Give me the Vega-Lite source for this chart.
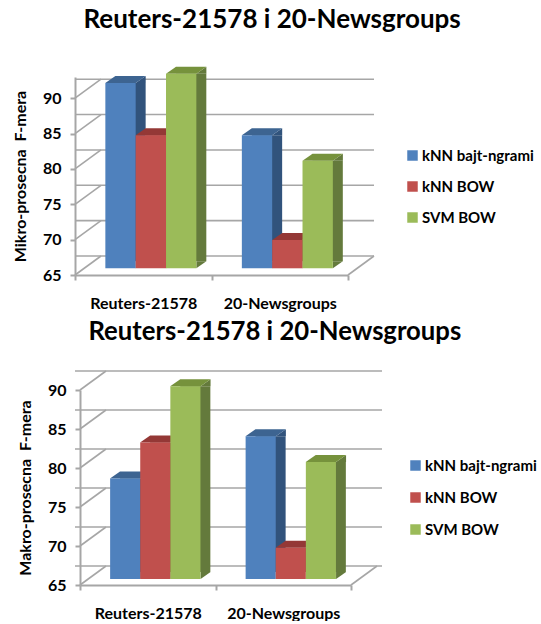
{
"$schema":"https://vega.github.io/schema/vega-lite/v6.json",
"background":"white",
"padding":{"left":12,"top":6,"right":0,"bottom":0},
"bounds":"flush",
"spacing":115,
"datasets":{
"micro":[
{"group":"Reuters-21578","series":"kNN bajt-ngrami","value":91.2},
{"group":"Reuters-21578","series":"kNN BOW","value":83.8},
{"group":"Reuters-21578","series":"SVM BOW","value":92.5},
{"group":"20-Newsgroups","series":"kNN bajt-ngrami","value":83.8},
{"group":"20-Newsgroups","series":"kNN BOW","value":69},
{"group":"20-Newsgroups","series":"SVM BOW","value":80.2}],
"macro":[
{"group":"Reuters-21578","series":"kNN bajt-ngrami","value":77.9},
{"group":"Reuters-21578","series":"kNN BOW","value":82.5},
{"group":"Reuters-21578","series":"SVM BOW","value":89.7},
{"group":"20-Newsgroups","series":"kNN bajt-ngrami","value":83.3},
{"group":"20-Newsgroups","series":"kNN BOW","value":69},
{"group":"20-Newsgroups","series":"SVM BOW","value":80}],
"ticks":[{"tick":65},{"tick":70},{"tick":75},{"tick":80},{"tick":85},{"tick":90}]
},
"config":{"view":{"stroke":null},"font":"Lato"},
"vconcat":[
{"width":273,"height":198,
"title":{"text":"Reuters-21578 i 20-Newsgroups","font":"Lato","fontSize":26,"fontWeight":"bold","color":"#000000","anchor":"start","dx":71,"offset":34},
"resolve":{"scale":{"color":"independent","xOffset":"independent"}},
"encoding":{
"y":{"type":"quantitative","scale":{"domain":[65,93],"nice":false,"zero":false},"axis":{"title":"Mikro-prosecna \u00a0F-mera","titleFont":"Lato","titleFontSize":16,"titleFontWeight":"bold","titleColor":"#000000","titlePadding":14,"labelFont":"Lato","labelFontSize":16,"labelFontWeight":"bold","labelColor":"#000000","labelPadding":9,"values":[65,70,75,80,85,90],"grid":false,"domainColor":"#a6a6a6","domainWidth":2,"tickColor":"#a6a6a6","tickWidth":2,"tickSize":5}}
},
"layer":[
{"data":{"name":"ticks"},"mark":{"type":"rule","color":"#a6a6a6","strokeWidth":1.6,"xOffset":26,"x2Offset":26,"yOffset":-19},"encoding":{"y":{"field":"tick"}}},
{"data":{"name":"ticks"},"mark":{"type":"rule","color":"#a6a6a6","strokeWidth":1.6,"y2Offset":-19},"encoding":{"x":{"value":0},"x2":{"value":26},"y":{"field":"tick"},"y2":{"field":"tick"}}},
{"data":{"values":[{"tick":65}]},"mark":{"type":"rule","color":"#a6a6a6","strokeWidth":1.6,"y2Offset":-19},"encoding":{"x":{"value":273},"x2":{"value":299},"y":{"field":"tick"},"y2":{"field":"tick"}}},
{"data":{"name":"micro"},"mark":{"type":"bar","yOffset":-6.7,"y2Offset":-13.7},
"encoding":{
"x":{"field":"group","type":"nominal","sort":null,"scale":{"paddingInner":0,"paddingOuter":0},"axis":{"title":null,"labelAngle":0,"labelFont":"Lato","labelFontSize":16,"labelFontWeight":"bold","labelColor":"#000000","labelPadding":15,"domainColor":"#a6a6a6","domainWidth":2,"tickColor":"#a6a6a6","tickWidth":2,"tickSize":5,"tickBand":"extent"}},
"xOffset":{"field":"series","type":"nominal","sort":null,"scale":{"type":"band","domain":["kNN bajt-ngrami","kNN BOW","SVM BOW"],"paddingInner":0,"paddingOuter":0.75,"align":0.886}},
"y":{"field":"value"},
"y2":{"datum":65},
"color":{"field":"series","type":"nominal","legend":null,"scale":{"domain":["kNN bajt-ngrami","kNN BOW","SVM BOW"],"range":["#31537c","#8a3331","#647a3c"]}}}},
{"data":{"name":"micro"},"mark":{"type":"point","filled":true,"opacity":1,"size":4,"shape":"M15.17 0L25.17 -7L25.17 0Z","yOffset":-6.7},
"encoding":{
"x":{"field":"group","type":"nominal","sort":null},
"xOffset":{"field":"series","type":"nominal","sort":null,"scale":{"type":"band","domain":["kNN bajt-ngrami","kNN BOW","SVM BOW"],"paddingInner":0,"paddingOuter":0.75,"align":0.667}},
"y":{"field":"value"},
"color":{"field":"series","type":"nominal","legend":null,"scale":{"domain":["kNN bajt-ngrami","kNN BOW","SVM BOW"],"range":["#31537c","#8a3331","#647a3c"]}}}},
{"data":{"name":"micro"},"mark":{"type":"point","filled":true,"opacity":1,"size":4,"shape":"M15.17 0L25.17 -7L15.17 -7Z","yOffset":-6.7},
"encoding":{
"x":{"field":"group","type":"nominal","sort":null},
"xOffset":{"field":"series","type":"nominal","sort":null,"scale":{"type":"band","domain":["kNN bajt-ngrami","kNN BOW","SVM BOW"],"paddingInner":0,"paddingOuter":0.75,"align":0.667}},
"y":{"datum":65},
"color":{"field":"series","type":"nominal","legend":null,"scale":{"domain":["kNN bajt-ngrami","kNN BOW","SVM BOW"],"range":["#31537c","#8a3331","#647a3c"]}}}},
{"data":{"name":"micro"},"mark":{"type":"point","filled":true,"opacity":1,"size":4,"shape":"M-15.17 0L-5.17 -7L25.17 -7L15.17 0Z","yOffset":-6.7},
"encoding":{
"x":{"field":"group","type":"nominal","sort":null},
"xOffset":{"field":"series","type":"nominal","sort":null,"scale":{"type":"band","domain":["kNN bajt-ngrami","kNN BOW","SVM BOW"],"paddingInner":0,"paddingOuter":0.75,"align":0.667}},
"y":{"field":"value"},
"color":{"field":"series","type":"nominal","legend":null,"scale":{"domain":["kNN bajt-ngrami","kNN BOW","SVM BOW"],"range":["#3d6491","#943836","#76923c"]}}}},
{"data":{"name":"micro"},"mark":{"type":"bar","yOffset":-6.7,"y2Offset":-6.7},
"encoding":{
"x":{"field":"group","type":"nominal","sort":null},
"xOffset":{"field":"series","type":"nominal","sort":null,"scale":{"type":"band","domain":["kNN bajt-ngrami","kNN BOW","SVM BOW"],"paddingInner":0,"paddingOuter":0.75,"align":0.667}},
"y":{"field":"value"},
"y2":{"datum":65},
"color":{"field":"series","type":"nominal","scale":{"domain":["kNN bajt-ngrami","kNN BOW","SVM BOW"],"range":["#4f81bd","#c0504d","#9bbb59"]},
"legend":{"orient":"none","legendX":330,"legendY":71,"title":null,"symbolType":"square","symbolSize":110,"labelFont":"Lato","labelFontSize":15,"labelFontWeight":"bold","labelColor":"#000000","rowPadding":15,"labelOffset":2,"padding":0}}}}
]},
{"width":276,"height":195,
"title":{"text":"Reuters-21578 i 20-Newsgroups","font":"Lato","fontSize":25.7,"fontWeight":"bold","color":"#000000","anchor":"start","dx":71,"offset":25},
"resolve":{"scale":{"color":"independent","xOffset":"independent"}},
"encoding":{
"y":{"type":"quantitative","scale":{"domain":[65,90],"nice":false,"zero":false},"axis":{"offset":-5,"title":"Makro-prosecna \u00a0F-mera","titleFont":"Lato","titleFontSize":16,"titleFontWeight":"bold","titleColor":"#000000","titlePadding":14,"labelFont":"Lato","labelFontSize":16,"labelFontWeight":"bold","labelColor":"#000000","labelPadding":9,"values":[65,70,75,80,85,90],"grid":false,"domainColor":"#a6a6a6","domainWidth":2,"tickColor":"#a6a6a6","tickWidth":2,"tickSize":5}}
},
"layer":[
{"data":{"name":"ticks"},"mark":{"type":"rule","color":"#a6a6a6","strokeWidth":1.6,"xOffset":31,"x2Offset":26,"yOffset":-19},"encoding":{"y":{"field":"tick"}}},
{"data":{"name":"ticks"},"mark":{"type":"rule","color":"#a6a6a6","strokeWidth":1.6,"y2Offset":-19},"encoding":{"x":{"value":5},"x2":{"value":31},"y":{"field":"tick"},"y2":{"field":"tick"}}},
{"data":{"values":[{"tick":65}]},"mark":{"type":"rule","color":"#a6a6a6","strokeWidth":1.6,"y2Offset":-19},"encoding":{"x":{"value":276},"x2":{"value":302},"y":{"field":"tick"},"y2":{"field":"tick"}}},
{"data":{"name":"macro"},"mark":{"type":"bar","yOffset":-6,"y2Offset":-13},
"encoding":{
"x":{"field":"group","type":"nominal","sort":null,"scale":{"range":[5,276],"paddingInner":0,"paddingOuter":0},"axis":{"title":null,"labelAngle":0,"labelFont":"Lato","labelFontSize":16,"labelFontWeight":"bold","labelColor":"#000000","labelPadding":15,"domainColor":"#a6a6a6","domainWidth":2,"tickColor":"#a6a6a6","tickWidth":2,"tickSize":5,"tickBand":"extent"}},
"xOffset":{"field":"series","type":"nominal","sort":null,"scale":{"type":"band","domain":["kNN bajt-ngrami","kNN BOW","SVM BOW"],"paddingInner":0,"paddingOuter":0.75,"align":0.886}},
"y":{"field":"value"},
"y2":{"datum":65},
"color":{"field":"series","type":"nominal","legend":null,"scale":{"domain":["kNN bajt-ngrami","kNN BOW","SVM BOW"],"range":["#31537c","#8a3331","#647a3c"]}}}},
{"data":{"name":"macro"},"mark":{"type":"point","filled":true,"opacity":1,"size":4,"shape":"M15.17 0L25.17 -7L25.17 0Z","yOffset":-6},
"encoding":{
"x":{"field":"group","type":"nominal","sort":null},
"xOffset":{"field":"series","type":"nominal","sort":null,"scale":{"type":"band","domain":["kNN bajt-ngrami","kNN BOW","SVM BOW"],"paddingInner":0,"paddingOuter":0.75,"align":0.667}},
"y":{"field":"value"},
"color":{"field":"series","type":"nominal","legend":null,"scale":{"domain":["kNN bajt-ngrami","kNN BOW","SVM BOW"],"range":["#31537c","#8a3331","#647a3c"]}}}},
{"data":{"name":"macro"},"mark":{"type":"point","filled":true,"opacity":1,"size":4,"shape":"M15.17 0L25.17 -7L15.17 -7Z","yOffset":-6},
"encoding":{
"x":{"field":"group","type":"nominal","sort":null},
"xOffset":{"field":"series","type":"nominal","sort":null,"scale":{"type":"band","domain":["kNN bajt-ngrami","kNN BOW","SVM BOW"],"paddingInner":0,"paddingOuter":0.75,"align":0.667}},
"y":{"datum":65},
"color":{"field":"series","type":"nominal","legend":null,"scale":{"domain":["kNN bajt-ngrami","kNN BOW","SVM BOW"],"range":["#31537c","#8a3331","#647a3c"]}}}},
{"data":{"name":"macro"},"mark":{"type":"point","filled":true,"opacity":1,"size":4,"shape":"M-15.17 0L-5.17 -7L25.17 -7L15.17 0Z","yOffset":-6},
"encoding":{
"x":{"field":"group","type":"nominal","sort":null},
"xOffset":{"field":"series","type":"nominal","sort":null,"scale":{"type":"band","domain":["kNN bajt-ngrami","kNN BOW","SVM BOW"],"paddingInner":0,"paddingOuter":0.75,"align":0.667}},
"y":{"field":"value"},
"color":{"field":"series","type":"nominal","legend":null,"scale":{"domain":["kNN bajt-ngrami","kNN BOW","SVM BOW"],"range":["#3d6491","#943836","#76923c"]}}}},
{"data":{"name":"macro"},"mark":{"type":"bar","yOffset":-6,"y2Offset":-6},
"encoding":{
"x":{"field":"group","type":"nominal","sort":null},
"xOffset":{"field":"series","type":"nominal","sort":null,"scale":{"type":"band","domain":["kNN bajt-ngrami","kNN BOW","SVM BOW"],"paddingInner":0,"paddingOuter":0.75,"align":0.667}},
"y":{"field":"value"},
"y2":{"datum":65},
"color":{"field":"series","type":"nominal","scale":{"domain":["kNN bajt-ngrami","kNN BOW","SVM BOW"],"range":["#4f81bd","#c0504d","#9bbb59"]},
"legend":{"orient":"none","legendX":333,"legendY":68,"title":null,"symbolType":"square","symbolSize":110,"labelFont":"Lato","labelFontSize":15,"labelFontWeight":"bold","labelColor":"#000000","rowPadding":16,"labelOffset":2,"padding":0}}}}
]}
]
}
